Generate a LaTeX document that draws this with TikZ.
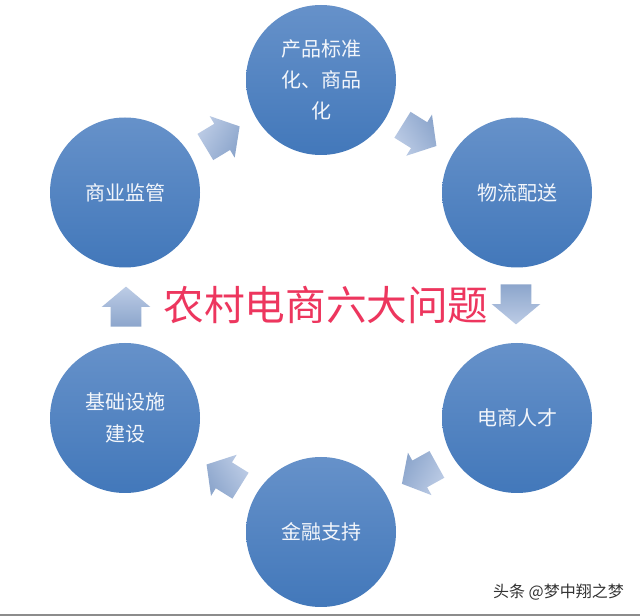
\documentclass[tikz,border=0pt]{standalone}
\usepackage{fontspec}
\setmainfont{Noto Sans CJK SC}
\usetikzlibrary{shapes, shapes.arrows, positioning}
\definecolor{circletop}{rgb}{0.40, 0.57, 0.79}
\definecolor{circlebot}{rgb}{0.26, 0.47, 0.73}
\definecolor{arrowtop}{rgb}{0.74, 0.80, 0.90}
\definecolor{arrowbot}{rgb}{0.55, 0.65, 0.80}
\definecolor{titlered}{rgb}{0.93, 0.21, 0.37}

\begin{document}
\begin{tikzpicture}[x=0.75pt, y=-0.75pt]
	\tikzstyle{issue}=[circle, draw=none, minimum size=112.5pt, inner sep=0pt, top color=circletop, bottom color=circlebot, text=white!92!circletop, align=center, font={\fontsize{15}{23.5}\selectfont}]
	\tikzstyle{flow}=[single arrow, draw=none, minimum height=30pt, inner xsep=0pt, inner ysep=11.25pt, outer sep=0pt, single arrow head extend=6.75pt, single arrow tip angle=100, shade, shading=axis, left color=arrowtop, right color=arrowbot]

	\useasboundingbox (0,0) rectangle (640,616);
	\fill [white] (0,0) rectangle (640,616);
	\fill [black!45] (0,614.5) rectangle (640,616);

	\node [issue] (P1) at (321,80) {产品标准\\化、商品\\化};
	\node [issue] (P2) at (517,192.5) {物流配送};
	\node [issue] (P3) at (517,418) {电商人才};
	\node [issue] (P4) at (321,532) {金融支持};
	\node [issue] (P5) at (125,418) {基础设施\\建设};
	\node [issue] (P6) at (125,192.5) {商业监管};

	% block arrows going round the ring
	\foreach \n/\x/\y/\a in {1/414/132/-32, 2/516/298/-90, 3/425/471/209, 4/229/478.5/148, 5/126/313/90, 6/217/140/31}
		\node [flow, rotate=\a, shading angle=90-\a] (A\n) at (\x,\y) {};

	\node [text=titlered, font={\fontsize{30.5}{32}\selectfont}] (title) at (326,305) {农村电商六大问题};
	\node [text=black!80, font={\fontsize{12}{14}\selectfont}] (mark) at (558.5,592) {头条 @梦中翔之梦};
\end{tikzpicture}
\end{document}
